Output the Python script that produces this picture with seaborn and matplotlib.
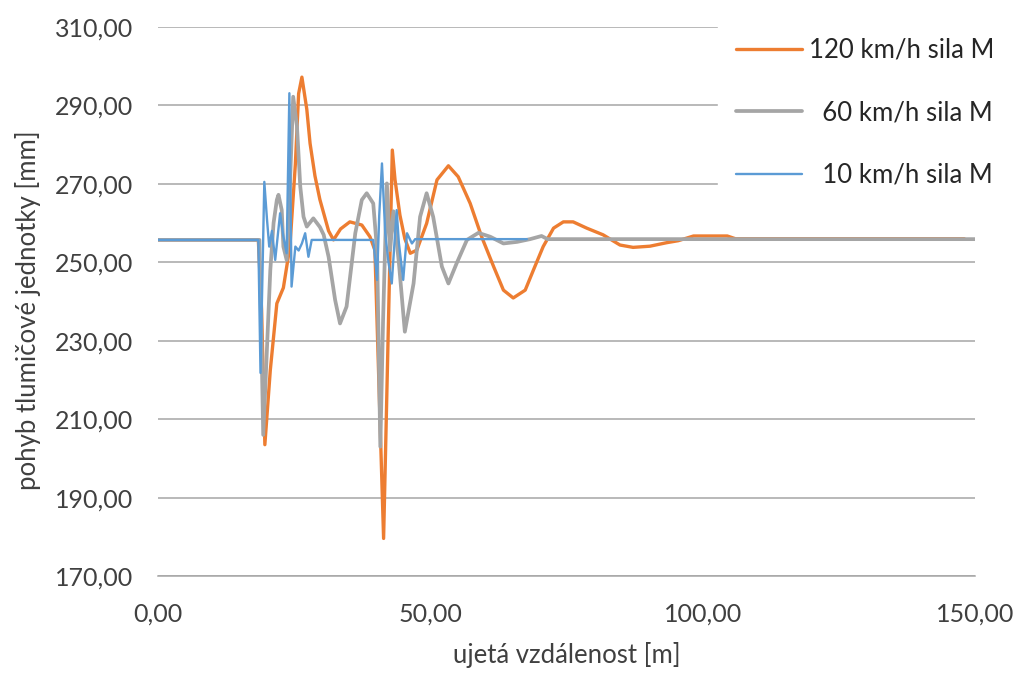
import numpy as np
import pandas as pd
import matplotlib
matplotlib.use("Agg")
import matplotlib.pyplot as plt
import seaborn as sns
from matplotlib.ticker import FuncFormatter

# Data
x_120 = [0, 18.4, 19.0, 19.6, 20.6, 21.8, 23.0, 24.2, 25.2, 25.8, 26.4, 27.3, 27.9, 28.8,
         29.7, 31.3, 32.2, 33.5, 35.2, 37.4, 38.9, 39.8, 41.4, 43.0, 43.5, 44.4, 45.3,
         46.3, 47.5, 49.3, 51.2, 53.3, 55.1, 57.3, 59.4, 61.6, 63.4, 65.2, 67.4, 68.9,
         70.7, 72.6, 74.4, 76.2, 78.7, 81.7, 84.8, 87.2, 90.3, 93.4, 95.5, 98.3, 104.5,
         106.0, 148.0]
y_120 = [255.7, 255.7, 238.0, 203.5, 222.5, 239.5, 243.5, 254.0, 275.0, 293.0, 297.2,
         289.0, 280.3, 272.0, 266.0, 258.0, 255.7, 258.5, 260.3, 259.5, 256.5, 253.1,
         179.6, 278.6, 271.0, 262.0, 256.0, 252.3, 253.1, 259.9, 271.0, 274.6, 271.8,
         265.0, 256.5, 248.9, 242.9, 240.9, 242.9, 248.0, 254.0, 258.7, 260.3, 260.3,
         258.7, 257.0, 254.4, 253.8, 254.1, 255.0, 255.5, 256.7, 256.7, 256.0, 256.0]

x_60 = [0, 18.6, 19.0, 19.3, 19.8, 20.6, 21.2, 21.8, 22.1, 22.7, 23.0, 23.6, 24.0, 24.8,
        25.5, 26.1, 26.7, 27.3, 28.5, 29.7, 30.4, 31.3, 32.5, 33.4, 34.6, 36.2, 37.4,
        38.3, 39.5, 40.2, 40.8, 41.3, 42.0, 42.6, 43.2, 44.2, 45.3, 46.9, 48.1, 49.3,
        50.5, 52.1, 53.3, 54.8, 56.7, 58.8, 61.0, 63.4, 65.9, 68.3, 70.4, 71.5, 150.0]
y_60 = [255.7, 255.7, 228.0, 206.0, 222.0, 248.0, 260.0, 265.9, 267.2, 263.3, 254.0,
        250.6, 262.0, 292.2, 284.6, 269.3, 261.6, 259.1, 261.2, 259.0, 257.0, 251.4,
        240.4, 234.4, 238.7, 257.4, 265.9, 267.6, 265.0, 253.1, 203.0, 235.0, 270.1,
        253.1, 263.0, 250.0, 232.3, 244.6, 261.6, 267.6, 261.6, 248.9, 244.6, 249.7,
        255.7, 257.5, 256.5, 254.8, 255.2, 255.9, 256.7, 255.9, 255.9]

x_10 = [0, 18.4, 18.8, 19.5, 20.0, 20.4, 20.9, 21.5, 22.4, 23.0, 23.6, 24.1, 24.5, 25.2,
        25.8, 26.4, 27.0, 27.6, 28.2, 39.5, 40.2, 40.6, 41.1, 41.7, 42.3, 42.9, 43.8,
        44.2, 45.0, 45.7, 46.6, 47.2, 67.7]
y_10 = [255.7, 255.7, 221.8, 270.5, 260.8, 254.0, 258.0, 250.6, 262.5, 256.5, 252.3,
        293.1, 243.8, 254.0, 253.0, 254.8, 257.4, 251.4, 255.7, 255.7, 245.5, 262.0,
        275.2, 257.4, 250.0, 244.6, 263.3, 255.0, 245.5, 257.4, 254.8, 255.9, 255.9]

labels = ["120 km/h sila M", "  60 km/h sila M", "  10 km/h sila M"]
colors = ["#ED7D31", "#A5A5A5", "#5B9BD5"]
widths = [2.4, 2.7, 1.7]

y_ticks = [170, 190, 210, 230, 250, 270, 290, 310]
x_ticks = [0, 50, 100, 150]

sns.set_style("white")
plt.rcParams['font.family'] = ['Lato', 'DejaVu Sans']

fig = plt.figure(figsize=(10.2, 6.73), dpi=100)
ax = fig.add_axes([0.155, 0.144, 0.801, 0.816])

series = [(x_120, y_120), (x_60, y_60), (x_10, y_10)]
for (xs, ys), lab, col, lw in zip(series, labels, colors, widths):
    df = pd.DataFrame({"x": xs, "y": ys})
    sns.lineplot(data=df, x="x", y="y", ax=ax, color=col, linewidth=lw,
                 label=lab, sort=False, estimator=None)

ax.set_xlim(0, 150)
ax.set_ylim(170, 310)
ax.set_xticks(x_ticks)
ax.set_yticks(y_ticks)
fmt = FuncFormatter(lambda v, p: f"{v:.2f}".replace(".", ","))
ax.xaxis.set_major_formatter(fmt)
ax.yaxis.set_major_formatter(fmt)
ax.tick_params(axis="both", labelsize=18, length=0, colors="#404040")
ax.tick_params(axis="x", pad=19)
ax.tick_params(axis="y", pad=18)

ax.grid(axis="y", color="#A6A6A6", linewidth=1.1)
ax.grid(axis="x", visible=False)
for side in ["top", "right", "left"]:
    ax.spines[side].set_visible(False)
ax.spines["bottom"].set_color("#A6A6A6")
ax.spines["bottom"].set_linewidth(1.1)
ax.set_axisbelow(True)

ax.set_xlabel("ujetá vzdálenost [m]", fontsize=18.5, color="#404040", labelpad=12)
ax.set_ylabel("pohyb tlumičové jednotky [mm]", fontsize=18.5, color="#404040")
ax.yaxis.set_label_coords(-0.143, 0.484)

leg = ax.legend(loc="upper left", bbox_to_anchor=(718 / 1020, 1 - 20 / 673),
                bbox_transform=fig.transFigure, frameon=True,
                fontsize=18.5, labelspacing=1.45, handlelength=2.55, handletextpad=0.3,
                borderpad=0.7, borderaxespad=0)
leg.get_frame().set_facecolor("white")
leg.get_frame().set_edgecolor("white")
leg.get_frame().set_alpha(1.0)
for t in leg.get_texts():
    t.set_color("#262626")

fig.savefig("out.png", dpi=100)
